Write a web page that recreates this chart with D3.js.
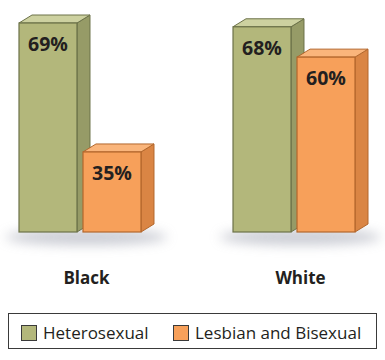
<!DOCTYPE html>
<html><head><meta charset="utf-8">
<script src="https://cdn.jsdelivr.net/npm/d3@7"></script>
<style>body{margin:0;background:#fff}svg{display:block}</style>
</head><body>
<script>
const groups = ["Black", "White"];
const series = ["Heterosexual", "Lesbian and Bisexual"];
const heterosexual = [69, 68];
const lesbianBisexual = [35, 60];
const valueLabels = [["69%", "35%"], ["68%", "60%"]];

const W = 385, H = 360;
const svg = d3.select("body").append("svg").attr("width", W).attr("height", H);
const defs = svg.append("defs");
defs.append("filter").attr("id", "blur").attr("x", "-50%").attr("y", "-200%").attr("width", "200%").attr("height", "500%")
  .append("feGaussianBlur").attr("stdDeviation", 6);

const colors = {
  "Heterosexual": {front: "#b3b77b", side: "#969b67", top: "#cdd1a0", stroke: "#6c7249"},
  "Lesbian and Bisexual": {front: "#f7a05a", side: "#da8544", top: "#fab57b", stroke: "#b3672c"}
};
const dx = 13, dy = -8;
const x0 = d3.scaleBand().domain(groups).range([19, 355]).paddingInner(0.43).paddingOuter(0);
const x1 = d3.scaleBand().domain(series).range([0, x0.bandwidth()]).paddingInner(0.094).paddingOuter(0);
const y = d3.scaleLinear().domain([13.9, 69]).range([232, 23]);
const baseY = y(13.9);

const data = groups.map((g, i) => ({group: g, values: [
  {s: series[0], v: heterosexual[i], label: valueLabels[i][0]},
  {s: series[1], v: lesbianBisexual[i], label: valueLabels[i][1]}
]}));

// shadows
data.forEach(d => {
  const cx = x0(d.group) + x0.bandwidth() / 2 + dx / 2;
  svg.append("ellipse").attr("cx", cx).attr("cy", baseY + 5).attr("rx", x0.bandwidth() / 2 + 20).attr("ry", 8)
    .attr("fill", "#b9bcc6").attr("opacity", 0.75).attr("filter", "url(#blur)");
});

const g = svg.selectAll("g.grp").data(data).join("g").attr("class", "grp")
  .attr("transform", d => `translate(${x0(d.group)},0)`);

const bar = g.selectAll("g.bar").data(d => d.values).join("g").attr("class", "bar");
bar.each(function(d) {
  const el = d3.select(this);
  const xl = x1(d.s), xr = xl + x1.bandwidth(), yt = y(d.v), c = colors[d.s];
  el.append("polygon")
    .attr("points", [[xr, yt], [xr + dx, yt + dy], [xr + dx, baseY + dy], [xr, baseY]].join(" "))
    .attr("fill", c.side).attr("stroke", c.stroke).attr("stroke-width", 1).attr("stroke-linejoin", "round");
  el.append("polygon")
    .attr("points", [[xl, yt], [xl + dx, yt + dy], [xr + dx, yt + dy], [xr, yt]].join(" "))
    .attr("fill", c.top).attr("stroke", c.stroke).attr("stroke-width", 1).attr("stroke-linejoin", "round");
  el.append("rect").attr("x", xl).attr("y", yt).attr("width", x1.bandwidth()).attr("height", baseY - yt)
    .attr("fill", c.front).attr("stroke", c.stroke).attr("stroke-width", 1.2);
  el.append("text").attr("x", xl + x1.bandwidth() / 2).attr("y", yt + 28)
    .attr("text-anchor", "middle").attr("font-family", "Open Sans").attr("font-weight", "bold")
    .attr("font-size", 19.5).attr("fill", "#231f20").text(d.label);
});

// category labels
svg.selectAll("text.cat").data(groups).join("text").attr("class", "cat")
  .attr("x", d => x0(d) + x0.bandwidth() / 2 + dx / 2).attr("y", 284)
  .attr("text-anchor", "middle").attr("font-family", "Open Sans").attr("font-weight", "bold")
  .attr("font-size", 17).attr("fill", "#231f20").text(d => d);

// legend
const leg = svg.append("g");
leg.append("rect").attr("x", 8.5).attr("y", 313.5).attr("width", 368).attr("height", 35)
  .attr("fill", "#fff").attr("stroke", "#3a3a3a").attr("stroke-width", 1);
const legX = [21, 173];
const li = leg.selectAll("g.li").data(series).join("g").attr("class", "li")
  .attr("transform", (d, i) => `translate(${legX[i]},325)`);
li.append("rect").attr("x", 0.5).attr("y", 0.5).attr("width", 15).attr("height", 15)
  .attr("fill", d => colors[d].front).attr("stroke", "#3a3a3a").attr("stroke-width", 1);
li.append("text").attr("x", 22).attr("y", 14).attr("font-family", "Open Sans").attr("font-size", 17)
  .attr("fill", "#231f20").text(d => d);
</script>
</body></html>
